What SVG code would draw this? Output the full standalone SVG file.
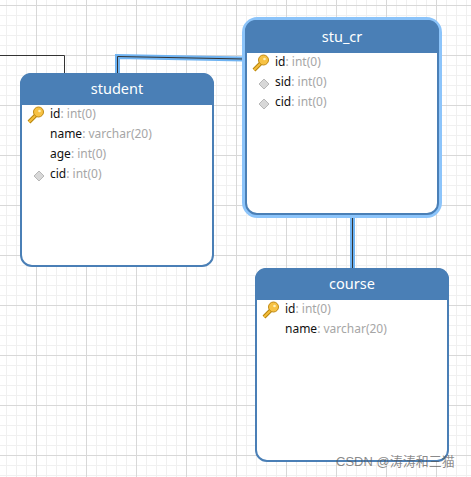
<svg xmlns="http://www.w3.org/2000/svg" width="471" height="477" viewBox="0 0 471 477">
<style>
.box{fill:#fff;stroke:#4a7fb6;stroke-width:2}
.head{fill:#4a7fb6}
.title{font:14.5px "Noto Sans","Open Sans",sans-serif;fill:#fff;text-anchor:middle}
.f{font:12px "Noto Sans","Open Sans",sans-serif;fill:#111}
.t{fill:#a6a6a6}
.halo{fill:none;stroke:#8cc4fa;stroke-width:5}
.cH{fill:none;stroke:#6fb3f2;stroke-width:5}
.c{fill:none;stroke:#333;stroke-width:1}
.wm{font:13px "Liberation Sans","Noto Sans CJK SC",sans-serif;fill:#555;fill-opacity:.7}
</style>
<defs>
<pattern id="minor" width="10" height="10" patternUnits="userSpaceOnUse" x="6" y="5">
<path d="M.5 0V10M0 .5H10" fill="none" stroke="#f0f0f0" stroke-width="1"/>
</pattern>
<pattern id="major" width="50" height="50" patternUnits="userSpaceOnUse" x="36" y="5">
<path d="M.5 0V50M0 .5H50" fill="none" stroke="#d8d8d8" stroke-width="1"/>
</pattern>
<g id="key">
<path d="M0 1L-7 8" stroke="#b8860b" stroke-width="4" fill="none"/>
<path d="M0 1L-7 8" stroke="#f5bd3c" stroke-width="2" fill="none"/>
<circle cx="2.500" cy="-2" r="5" fill="#f7c244" stroke="#c08a14" stroke-width="1"/>
<circle cx="3.500" cy="-3" r="1.300" fill="#fff0b8"/>
</g>
<path id="dia" d="M0-5L5 0L0 5L-5 0Z" fill="#d8d8d8" stroke="#b8b8b8"/>
</defs>
<rect width="471" height="477" fill="#fff"/>
<rect width="471" height="477" fill="url(#minor)"/>
<rect width="471" height="477" fill="url(#major)"/>
<g id="connectors">
<path class="cH" d="M117.500 73V56.500L244 59"/>
<path class="cH" d="M352.500 215V268"/>
<path class="c" d="M0 55.500H64.500V73"/>
<path class="c" d="M117.500 73V56.500L244 59"/>
<path class="c" d="M352.500 215V268"/>
</g>
<g id="student">
<rect class="box" x="21" y="74" width="192" height="192" rx="11"/>
<path class="head" d="M20 105V84a11 11 0 0 1 11-11H203a11 11 0 0 1 11 11V105Z"/>
<text class="title" x="117" y="94">student</text>
<use href="#key" x="36" y="114"/>
<text class="f" x="50" y="118">id<tspan class="t">: int(0)</tspan></text>
<text class="f" x="50" y="138">name<tspan class="t">: varchar(20)</tspan></text>
<text class="f" x="50" y="158">age<tspan class="t">: int(0)</tspan></text>
<use href="#dia" x="39" y="176"/>
<text class="f" x="50" y="178">cid<tspan class="t">: int(0)</tspan></text>
</g>
<g id="stu_cr">
<rect class="halo" x="244.500" y="19.500" width="195" height="196" rx="13"/>
<rect class="box" x="246" y="21" width="192" height="193" rx="11"/>
<path class="head" d="M245 53V31a11 11 0 0 1 11-11H428a11 11 0 0 1 11 11V53Z"/>
<text class="title" x="342" y="42">stu_cr</text>
<use href="#key" x="261" y="62"/>
<text class="f" x="275" y="66">id<tspan class="t">: int(0)</tspan></text>
<use href="#dia" x="264" y="84"/>
<text class="f" x="275" y="86">sid<tspan class="t">: int(0)</tspan></text>
<use href="#dia" x="264" y="104"/>
<text class="f" x="275" y="106">cid<tspan class="t">: int(0)</tspan></text>
</g>
<g id="course">
<rect class="box" x="256" y="269" width="192" height="192" rx="11"/>
<path class="head" d="M255 300V279a11 11 0 0 1 11-11H438a11 11 0 0 1 11 11V300Z"/>
<text class="title" x="352" y="289">course</text>
<use href="#key" x="271" y="309"/>
<text class="f" x="285" y="313">id<tspan class="t">: int(0)</tspan></text>
<text class="f" x="285" y="333">name<tspan class="t">: varchar(20)</tspan></text>
</g>
<text class="wm" x="336" y="466">CSDN @涛涛和三猫</text>
</svg>
